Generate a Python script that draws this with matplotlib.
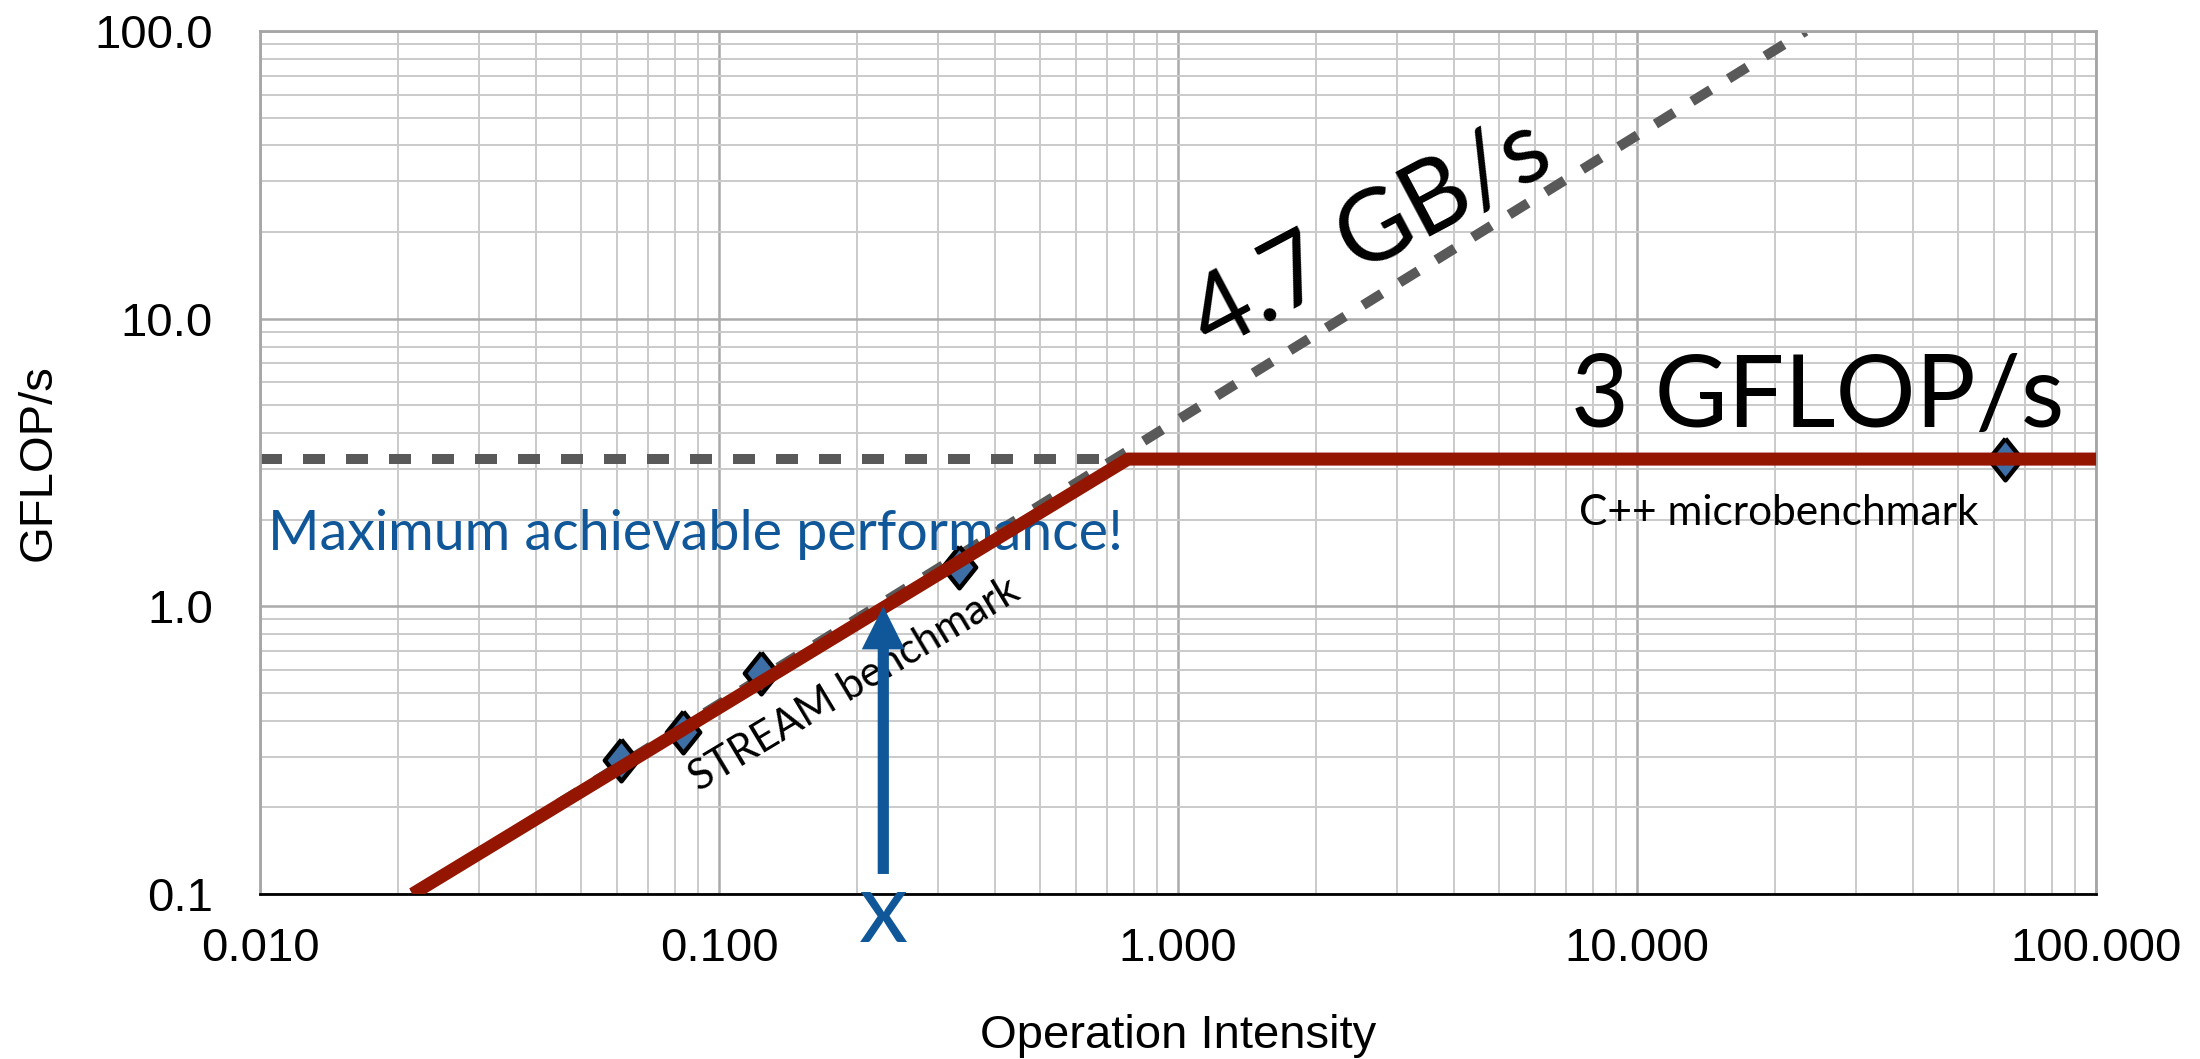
import matplotlib
matplotlib.use('Agg')
import matplotlib.pyplot as plt
from matplotlib.ticker import LogLocator, FixedLocator, FixedFormatter, NullFormatter

# measured kernels (operation intensity, GFLOP/s)
point_x = [0.0612, 0.0834, 0.1236, 0.3336, 63.4]
point_y = [0.292, 0.366, 0.585, 1.373, 3.25]

# roofline and the two ceilings
roof_x = [0.0215, 0.778, 100]
roof_y = [0.1, 3.25, 3.25]
bw_x = [0.0215, 23.3]
bw_y = [0.1, 100]
peak_x = [0.01, 100]
peak_y = [3.25, 3.25]

# the "x" arrow
arrow_x = 0.228
arrow_y = [0.1174, 1.0]

xticks = [0.01, 0.1, 1, 10, 100]
xtick_labels = ['0.010', '0.100', '1.000', '10.000', '100.000']
yticks = [0.1, 1, 10, 100]
ytick_labels = ['0.1', '1.0', '10.0', '100.0']

blue = '#0f5799'
red = '#941500'
gray = '#595959'
gill = ['Lato', 'DejaVu Sans']
helv = ['Liberation Sans', 'DejaVu Sans']

fig = plt.figure(figsize=(22, 10.59), dpi=100)
ax = fig.add_axes([260/2200, 165/1059, 1836/2200, 863/1059])
ax.set_xscale('log')
ax.set_yscale('log')
ax.set_xlim(0.01, 100)
ax.set_ylim(0.1, 100)

ax.xaxis.set_major_locator(FixedLocator(xticks))
ax.xaxis.set_major_formatter(FixedFormatter(xtick_labels))
ax.yaxis.set_major_locator(FixedLocator(yticks))
ax.yaxis.set_major_formatter(FixedFormatter(ytick_labels))
ax.xaxis.set_minor_locator(LogLocator(base=10, subs=range(2, 10)))
ax.yaxis.set_minor_locator(LogLocator(base=10, subs=range(2, 10)))
ax.xaxis.set_minor_formatter(NullFormatter())
ax.yaxis.set_minor_formatter(NullFormatter())

ax.grid(True, which='major', color='#ababab', lw=1.8)
ax.grid(True, which='minor', color='#cacaca', lw=1.4)
ax.set_axisbelow(True)
ax.tick_params(which='both', length=0)
ax.tick_params(axis='x', pad=24)
ax.tick_params(axis='y', pad=34)
for lab in ax.get_xticklabels() + ax.get_yticklabels():
    lab.set_family(helv)
    lab.set_fontsize(34)

for s in ['left', 'top', 'right']:
    ax.spines[s].set_color('#a6a6a6')
    ax.spines[s].set_linewidth(2)
ax.spines['bottom'].set_color('black')
ax.spines['bottom'].set_linewidth(2)

xl = ax.set_xlabel('Operation Intensity', family=helv, fontsize=34)
ax.xaxis.set_label_coords(0.5, -0.179)
xl.set_va('baseline')
ax.set_ylabel('GFLOP/s', family=helv, fontsize=34, labelpad=24)

# ceilings
ax.plot(peak_x, peak_y, color=gray, lw=7.2, dashes=(2.2, 2.1), zorder=2)
ax.plot(bw_x, bw_y, color=gray, lw=7.2, dashes=(2.2, 2.1), zorder=2)

# points then roofline on top
diamond = [(0, 1), (0.8, 0), (0, -1), (-0.8, 0), (0, 1)]
ax.plot(point_x, point_y, ls='none', marker=diamond, ms=30, mfc='#3d6ea5',
        mec='black', mew=3.2, zorder=3, clip_on=False)
ax.plot(roof_x, roof_y, color=red, lw=9.4, solid_capstyle='butt', zorder=4)

ax.annotate('', xy=(arrow_x, arrow_y[1]), xytext=(arrow_x, arrow_y[0]),
            arrowprops=dict(arrowstyle='simple,head_length=1,head_width=1,tail_width=0.26',
                            color=blue, lw=0, mutation_scale=31, shrinkA=0, shrinkB=0),
            zorder=5)
ax.text(arrow_x, -0.0556, 'x', transform=ax.get_xaxis_transform(), color=blue,
        family=gill, fontsize=71, ha='center', va='baseline')

ax.text(7.17, 4.2, '3 GFLOP/s', family=gill, fontsize=72, ha='left', va='baseline')
ax.text(7.46, 1.917, 'C++ microbenchmark', family=gill, fontsize=30.5, ha='left', va='baseline')
ax.text(0.0104, 1.57, 'Maximum achievable performance!', family=gill, fontsize=40,
        color=blue, ha='left', va='baseline')
ax.text(0.197, 0.533, 'STREAM benchmark', family=gill, fontsize=30, rotation=31,
        rotation_mode='anchor', ha='center', va='center')
ax.text(2.64, 19.4, '4.7 GB/s', family=gill, fontsize=72, rotation=28,
        rotation_mode='anchor', ha='center', va='center')

fig.savefig('out.png', dpi=100)
